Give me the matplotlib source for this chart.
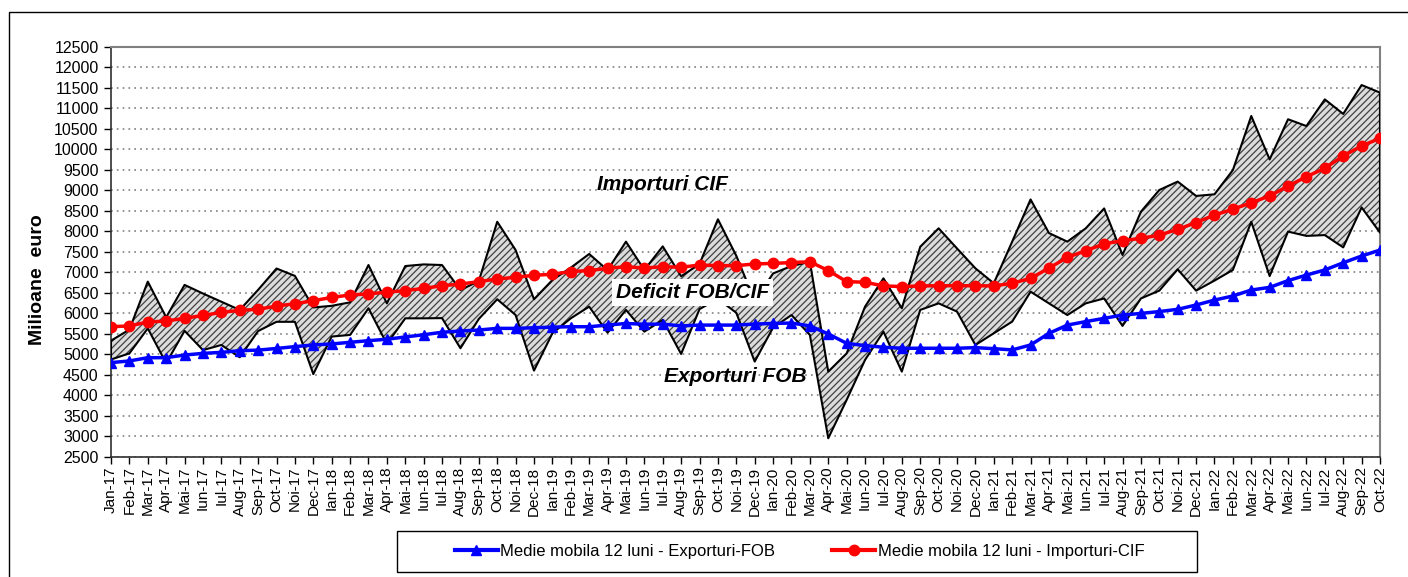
import numpy as np
import matplotlib
matplotlib.use("Agg")
import matplotlib.pyplot as plt
from matplotlib.patches import Rectangle
from matplotlib.lines import Line2D

plt.rcParams['font.family'] = ['Liberation Sans', 'DejaVu Sans']
plt.rcParams['hatch.linewidth'] = 0.9

months = ["Ian", "Feb", "Mar", "Apr", "Mai", "Iun", "Iul", "Aug", "Sep", "Oct", "Noi", "Dec"]
labels = [f"{m}-{y}" for y in range(17, 23) for m in months][:70]
labels[0] = "Jan-17"

imports = [5330, 5600, 6770, 5900, 6690, 6480, 6280, 6080, 6570, 7090, 6910, 6140,
           6180, 6265, 7175, 6240, 7150, 7190, 7175, 6565, 6785, 8230, 7540, 6340,
           6810, 7110, 7445, 7050, 7745, 7055, 7630, 6900, 7200, 8290, 7400, 6300,
           6970, 7150, 7255, 4575, 5020, 6160, 6850, 6120, 7620, 8070, 7580, 7095,
           6730, 7745, 8775, 7955, 7745, 8070, 8555, 7420, 8475, 9005, 9210, 8860,
           8900, 9490, 10810, 9750, 10730, 10565, 11215, 10860, 11565, 11380]
exports = [4870, 5020, 5630, 4780, 5570, 5100, 5225, 4925, 5565, 5790, 5790, 4515,
           5430, 5470, 6120, 5250, 5875, 5875, 5880, 5145, 5860, 6340, 5955, 4600,
           5510, 5875, 6160, 5525, 6080, 5550, 5835, 5005, 6100, 6350, 6010, 4820,
           5650, 5955, 5470, 2950, 3885, 4860, 5550, 4575, 6080, 6240, 6040, 5225,
           5510, 5795, 6525, 6240, 5955, 6240, 6360, 5690, 6360, 6550, 7070, 6550,
           6795, 7055, 8230, 6905, 7990, 7885, 7905, 7605, 8580, 7965]
ma_imports = [5670, 5690, 5785, 5810, 5875, 5945, 6020, 6070, 6095, 6175, 6230, 6305,
              6385, 6445, 6470, 6515, 6550, 6605, 6670, 6710, 6770, 6835, 6875, 6925,
              6950, 7015, 7040, 7095, 7135, 7100, 7135, 7120, 7175, 7160, 7160, 7200,
              7215, 7235, 7255, 7040, 6770, 6755, 6665, 6650, 6665, 6670, 6670, 6670,
              6665, 6730, 6850, 7100, 7360, 7525, 7690, 7770, 7825, 7905, 8045, 8210,
              8395, 8535, 8695, 8860, 9100, 9330, 9535, 9835, 10080, 10265]
ma_exports = [4795, 4835, 4915, 4915, 4980, 5020, 5045, 5085, 5100, 5140, 5185, 5225,
              5250, 5290, 5330, 5365, 5420, 5475, 5535, 5565, 5590, 5630, 5630, 5645,
              5660, 5670, 5670, 5710, 5750, 5730, 5735, 5690, 5710, 5710, 5710, 5735,
              5750, 5760, 5690, 5495, 5265, 5210, 5170, 5145, 5145, 5145, 5145, 5160,
              5135, 5105, 5225, 5510, 5710, 5795, 5875, 5955, 5995, 6040, 6095, 6200,
              6320, 6420, 6565, 6630, 6795, 6930, 7055, 7230, 7395, 7540]

W, H = 1408, 577
fig = plt.figure(figsize=(W / 100, H / 100), dpi=100)
ax = fig.add_axes([111 / W, 1 - 456.7 / H, 1269 / W, 410 / H])

x = np.arange(len(labels))
ax.fill_between(x, exports, imports, facecolor='#dcdcdc', edgecolor='#404040',
                hatch='/////', linewidth=0, zorder=2)
ax.fill_between(x, exports, imports, facecolor='none', edgecolor='black',
                linewidth=1.5, zorder=3)
ax.plot(x, ma_exports, color='#0000ff', lw=2.5, marker='^', ms=7, zorder=5)
ax.plot(x, ma_imports, color='#ff0000', lw=2.5, marker='o', ms=7.5, zorder=5)

ax.set_xlim(0, len(labels) - 1)
ax.set_ylim(2500, 12500)
ax.set_yticks(np.arange(2500, 12501, 500))
ax.tick_params(axis='y', labelsize=11.5, length=5, width=1, direction='out', pad=4)
ax.set_xticks(x)
ax.set_xticklabels(labels, rotation=90, fontsize=11)
ax.tick_params(axis='x', length=5, width=1, direction='out', pad=2)
ax.yaxis.grid(True, linestyle=(0, (1, 2.5)), color='#808080', lw=1.2)
ax.set_axisbelow(True)
for s in ['top', 'right']:
    ax.spines[s].set_color('#808080')
    ax.spines[s].set_linewidth(1.5)
for s in ['left', 'bottom']:
    ax.spines[s].set_color('#303030')
    ax.spines[s].set_linewidth(1.2)

fig.text(38 / W, 1 - 280 / H, 'Milioane  euro', fontsize=14, fontweight='bold',
         rotation=90, ha='center', va='center')

ax.text(29.96, 9127, 'Importuri CIF', fontsize=15, fontweight='bold', style='italic',
        ha='center', va='center', zorder=6)
ax.text(31.62, 6505, 'Deficit FOB/CIF', fontsize=15, fontweight='bold', style='italic',
        ha='center', va='center', zorder=6,
        bbox=dict(facecolor='white', edgecolor='none', pad=3))
ax.text(33.93, 4468, 'Exporturi FOB', fontsize=15, fontweight='bold', style='italic',
        ha='center', va='center', zorder=6)

# legend
fig.patches.append(Rectangle((397 / W, 1 - 572 / H), 800 / W, 41 / H, transform=fig.transFigure,
                             facecolor='white', edgecolor='black', lw=1.0))
handles = [Line2D([], [], color='#0000ff', lw=3, marker='^', ms=7),
           Line2D([], [], color='#ff0000', lw=3, marker='o', ms=7.5)]
fig.legend(handles, ['Medie mobila 12 luni - Exporturi-FOB', 'Medie mobila 12 luni - Importuri-CIF'],
           loc='center', bbox_to_anchor=(799.5 / W, 1 - 551.5 / H), ncol=2, frameon=False,
           fontsize=12, handlelength=2.6, handletextpad=0.15, columnspacing=3.4, borderpad=0)

# outer border
fig.patches.append(Rectangle((9 / W, -0.1), 1.2, 1.1 - 12 / H, transform=fig.transFigure,
                             facecolor='none', edgecolor='black', lw=1.0))

fig.savefig('out.png', dpi=100)
